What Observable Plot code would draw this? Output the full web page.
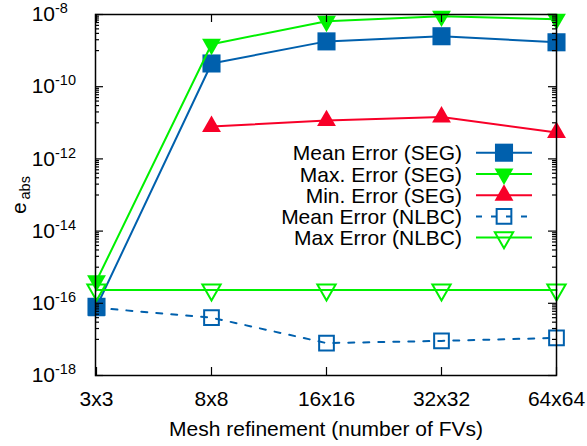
<!DOCTYPE html>
<html><head><meta charset="utf-8">
<script src="https://cdn.jsdelivr.net/npm/d3@7"></script>
<script src="https://cdn.jsdelivr.net/npm/@observablehq/plot@0.6"></script>
<style>body{margin:0;background:#fff;} svg{display:block}</style>
</head><body><div id="chart"></div>
<script>
const categories = ["3x3", "8x8", "16x16", "32x32", "64x64"];
const meanSEG  = [8.0e-17, 4.4e-10, 1.8e-9, 2.5e-9, 1.7e-9];
const maxSEG   = [4.2e-16, 1.5e-9, 6.5e-9, 9.0e-9, 7.4e-9];
const minSEG   = [null, 7.9e-12, 1.15e-11, 1.45e-11, 5.4e-12];
const meanNLBC = [7.5e-17, 4.0e-17, 7.9e-18, 9.1e-18, 1.1e-17];
const maxNLBC  = [2.35e-16, 2.35e-16, 2.35e-16, 2.35e-16, 2.35e-16];
const seriesNames = ["Mean Error (SEG)", "Max. Error (SEG)", "Min. Error (SEG)", "Mean Error (NLBC)", "Max Error (NLBC)"];
const yTickExponents = [-8, -10, -12, -14, -16, -18];
const xLabel = "Mesh refinement (number of FVs)";
const yLabelMain = "e";
const yLabelSub = "abs";

const BLUE = "#0060ad", GREEN = "#00f000", RED = "#f80028";
const FONT = "'Liberation Sans', Arial, Helvetica, sans-serif";
const FS = 21;

const triDown = {
  draw(context, size) {
    const y = Math.sqrt(size / (3 * Math.sqrt(3)));
    context.moveTo(0, 2 * y);
    context.lineTo(-Math.sqrt(3) * y, -y);
    context.lineTo(Math.sqrt(3) * y, -y);
    context.closePath();
  }
};

const series = [
  {name: seriesNames[0], values: meanSEG,  color: BLUE,  symbol: d3.symbolSquare,   r: 10.2, filled: true,  dash: null},
  {name: seriesNames[1], values: maxSEG,   color: GREEN, symbol: triDown,           r: 7.0,  filled: true,  dash: null},
  {name: seriesNames[2], values: minSEG,   color: RED,   symbol: d3.symbolTriangle, r: 7.0,  filled: true,  dash: null},
  {name: seriesNames[3], values: meanNLBC, color: BLUE,  symbol: d3.symbolSquare,   r: 8.3,  filled: false, dash: "6,9"},
  {name: seriesNames[4], values: maxNLBC,  color: GREEN, symbol: triDown,           r: 6.8,  filled: false, dash: null}
];

const W = 587, H = 446, mL = 95, mR = 31, mT = 14, mB = 71;
const plotW = W - mL - mR, plotH = H - mT - mB;

const yMajor = yTickExponents.map(e => Math.pow(10, e));
const yMinor = [-9, -11, -13, -15, -17].flatMap(e => [1,2,3,4,5,6,7,8,9].map(k => k * Math.pow(10, e)));

const marks = [];
for (const s of series) {
  const rows = categories.map((c, i) => ({x: c, y: s.values[i]})).filter(d => d.y != null);
  marks.push(Plot.line(rows, {x: "x", y: "y", stroke: s.color, strokeWidth: 2, strokeDasharray: s.dash || undefined}));
  marks.push(Plot.dot(rows, {
    x: "x", y: "y", symbol: s.symbol, r: s.r,
    fill: s.filled ? s.color : "none",
    stroke: s.filled ? "none" : s.color,
    strokeWidth: s.filled ? 0 : 2
  }));
}

// frame and ticks (in front, like gnuplot's border)
marks.push(Plot.frame({stroke: "black", strokeWidth: 1.5}));
marks.push(Plot.tickY(yMajor, {y: d => d, insetRight: plotW - 8, stroke: "black", strokeWidth: 1.2}));
marks.push(Plot.tickY(yMajor, {y: d => d, insetLeft: plotW - 8, stroke: "black", strokeWidth: 1.2}));
marks.push(Plot.tickY(yMinor, {y: d => d, insetRight: plotW - 4, stroke: "black", strokeWidth: 1.2}));
marks.push(Plot.tickY(yMinor, {y: d => d, insetLeft: plotW - 4, stroke: "black", strokeWidth: 1.2}));
marks.push(Plot.tickX(categories, {x: d => d, insetTop: plotH - 8, stroke: "black", strokeWidth: 1.2}));
marks.push(Plot.tickX(categories, {x: d => d, insetBottom: plotH - 8, stroke: "black", strokeWidth: 1.2}));

// y tick labels 10^e
marks.push(Plot.text(yTickExponents, {y: e => Math.pow(10, e), frameAnchor: "left", text: () => "10",
  textAnchor: "end", lineAnchor: "middle", dx: -40.5, fontSize: FS, fill: "black"}));
marks.push(Plot.text(yTickExponents, {y: e => Math.pow(10, e), frameAnchor: "left", text: e => String(e),
  textAnchor: "start", lineAnchor: "middle", dx: -40.5, dy: -6, fontSize: 14.5, fill: "black"}));

// x tick labels
marks.push(Plot.text(categories, {x: d => d, frameAnchor: "bottom", text: d => d, lineAnchor: "top", dy: 15.5, fontSize: FS, fill: "black"}));

// axis labels
marks.push(Plot.text([xLabel], {frameAnchor: "bottom", text: d => d, lineAnchor: "middle", dy: 53.5, fontSize: FS, fill: "black"}));
marks.push(Plot.text([yLabelMain], {frameAnchor: "left", text: d => d, rotate: -90, textAnchor: "start", lineAnchor: "middle", dx: -76, dy: 19, fontSize: FS, fill: "black"}));
marks.push(Plot.text([yLabelSub], {frameAnchor: "left", text: d => d, rotate: -90, textAnchor: "start", lineAnchor: "middle", dx: -70.5, dy: 4.5, fontSize: 14.5, fill: "black"}));

const chart = Plot.plot({
  width: W, height: H,
  marginLeft: mL, marginRight: mR, marginTop: mT, marginBottom: mB,
  style: {fontFamily: FONT, fontSize: FS + "px", background: "white", color: "black", overflow: "visible"},
  x: {type: "point", domain: categories, padding: 0, axis: null},
  y: {type: "log", domain: [1e-18, 1e-8], axis: null},
  marks
});
document.getElementById("chart").appendChild(chart);

// legend (inside plot area, top-right, like gnuplot's key)
const svg = d3.select(chart);
const lg = svg.append("g").attr("font-family", FONT).attr("font-size", FS);
const rowY = [152.7, 174, 195.2, 216.4, 237.6];
const textRight = 462, lineX1 = 476, lineX2 = 532, markX = 504;
series.forEach((s, i) => {
  const y = rowY[i];
  lg.append("text").attr("x", textRight).attr("y", y + 7.5).attr("text-anchor", "end").attr("fill", "black").text(s.name);
  lg.append("line").attr("x1", lineX1).attr("x2", lineX2).attr("y1", y).attr("y2", y)
    .attr("stroke", s.color).attr("stroke-width", 2).attr("stroke-dasharray", s.dash);
  lg.append("path").attr("transform", `translate(${markX},${y})`)
    .attr("d", d3.symbol(s.symbol, Math.PI * s.r * s.r)())
    .attr("fill", s.filled ? s.color : "none")
    .attr("stroke", s.filled ? "none" : s.color)
    .attr("stroke-width", s.filled ? 0 : 2);
});
</script>
</body></html>
